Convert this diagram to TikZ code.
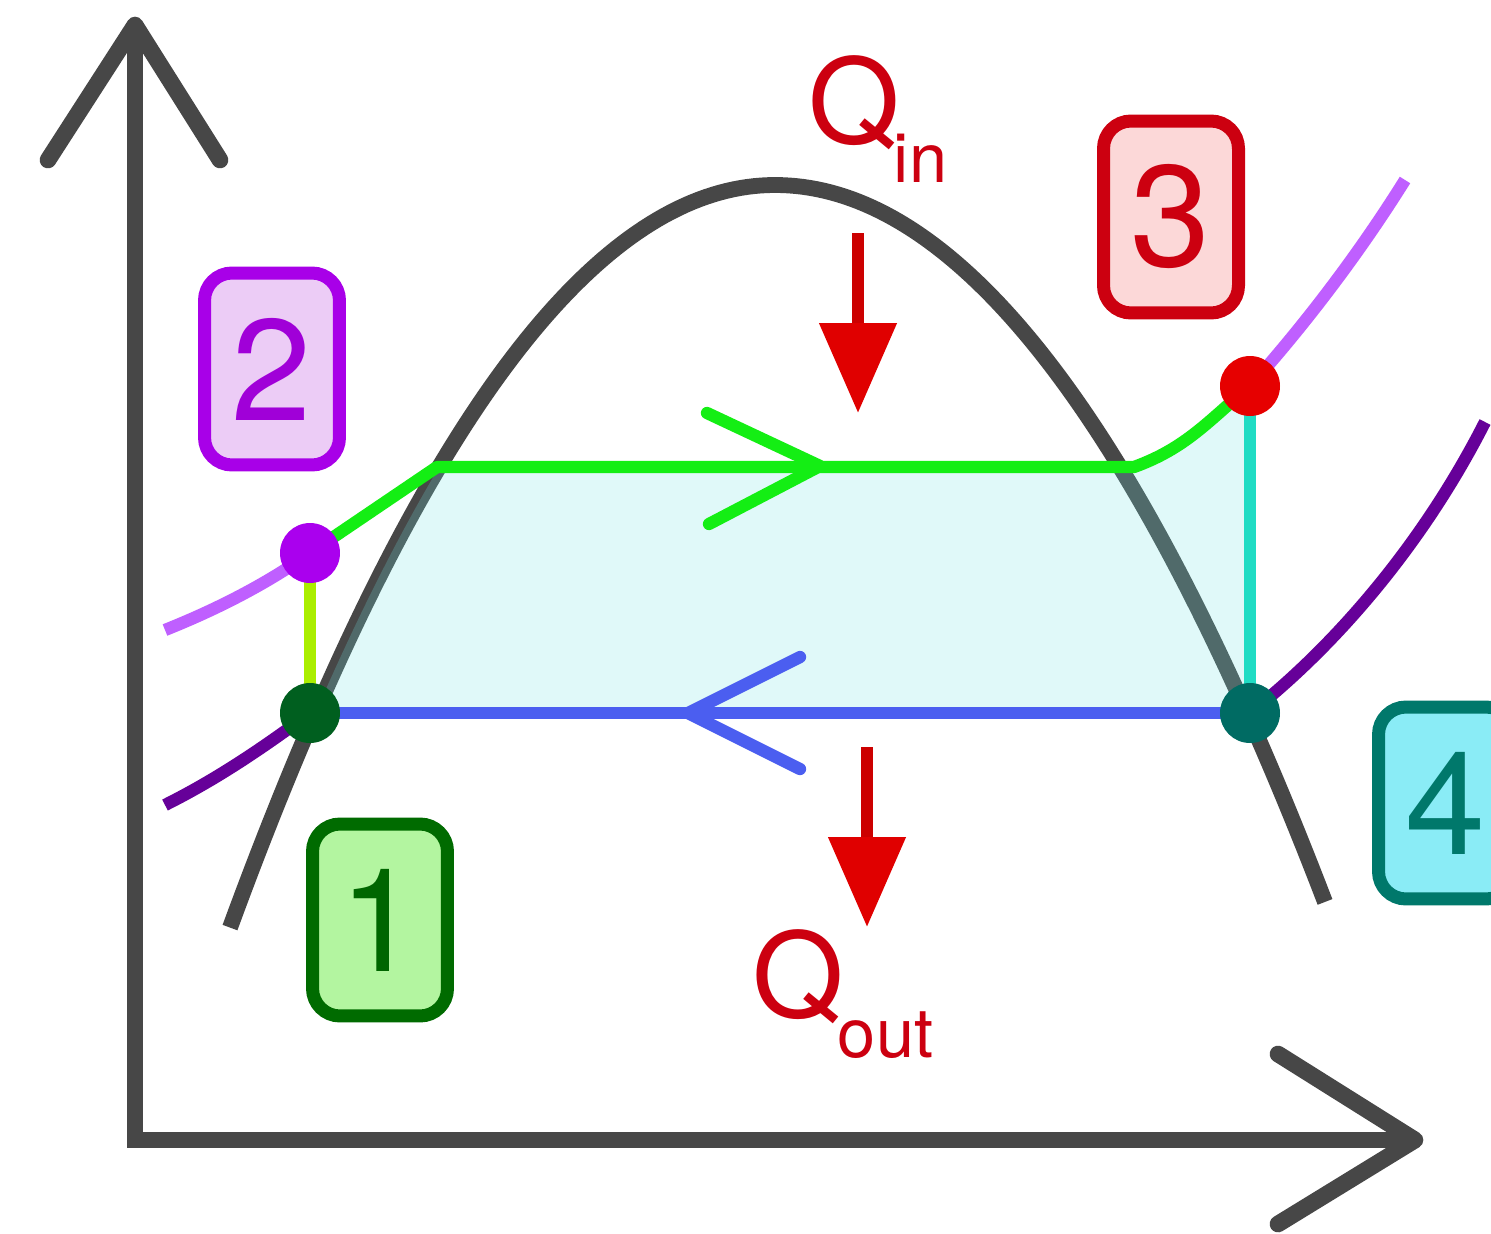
\documentclass[tikz,border=0pt]{standalone}
\usepackage{fontspec}
\setmainfont{TeX Gyre Heros}
\newfontfamily\labelfont{TeX Gyre Heros}
\usetikzlibrary{arrows.meta}
\definecolor{axisgray}{HTML}{474747}
\definecolor{cycfill}{RGB}{114,232,232}
\definecolor{lgreen}{HTML}{14EE14}
\definecolor{ygreen}{HTML}{AAEE00}
\definecolor{lblue}{HTML}{4B5EF0}
\definecolor{lteal}{HTML}{20DCC4}
\definecolor{lpurple}{HTML}{BF5FFF}
\definecolor{dpurple}{HTML}{660099}
\definecolor{dotone}{HTML}{005F1F}
\definecolor{dottwo}{HTML}{AA00EE}
\definecolor{dotthree}{HTML}{E60000}
\definecolor{dotfour}{HTML}{006B63}
\definecolor{arrred}{HTML}{E00000}
\definecolor{shaftred}{HTML}{CC0000}
\definecolor{qred}{HTML}{CC0010}
\definecolor{bonedraw}{HTML}{006B00}\definecolor{bonefill}{HTML}{B3F5A0}\definecolor{bonetext}{HTML}{006600}
\definecolor{btwodraw}{HTML}{A800E8}\definecolor{btwofill}{HTML}{ECCCF6}\definecolor{btwotext}{HTML}{A000D8}
\definecolor{bthreedraw}{HTML}{CC0010}\definecolor{bthreefill}{HTML}{FCD8D8}\definecolor{bthreetext}{HTML}{CC0010}
\definecolor{bfourdraw}{HTML}{00786B}\definecolor{bfourfill}{HTML}{8AECF6}\definecolor{bfourtext}{HTML}{00786B}
\newcommand{\domeL}[1]{185+25*((#1-775)/100)*((#1-775)/100)}
\newcommand{\domeR}[1]{185+23.7*((#1-775)/100)*((#1-775)/100)}
\begin{document}
\begin{tikzpicture}[x=0.02cm,y=-0.02cm,
  axisline/.style={draw=axisgray,line width=9.5pt,line cap=round,line join=round},
  domeline/.style={draw=axisgray,line width=9pt},
  cycline/.style={line width=7pt,line cap=round,line join=round},
  isobar/.style={line width=7pt},
  dotnode/.style={circle,inner sep=0pt,minimum size=1.2cm},
  numbox/.style={rounded corners=0.55cm,line width=7.4pt,minimum width=2.7cm,minimum height=3.84cm,inner sep=0pt,font=\labelfont\fontsize{82}{82}\selectfont},
  heatarrow/.style={draw=shaftred,line width=6.5pt,-{Triangle[length=1.8cm,width=1.5cm,fill=arrred,color=arrred]}},
  qlabel/.style={anchor=base west,inner sep=0pt,text=qred,font=\labelfont\fontsize{67}{67}\selectfont}]
\useasboundingbox (0,0) rectangle (1491,1234);
\fill[white] (0,0) rectangle (1491,1234);
% key points
\coordinate (p1) at (310,713);
\coordinate (p2) at (310,553);
\coordinate (p3) at (1250,386);
\coordinate (p4) at (1250,713);
\coordinate (k1) at (437,467);
\coordinate (k2) at (1134,467);
% axes
\coordinate (O) at (135,1140);
\coordinate (ytip) at (135,25);
\coordinate (xtip) at (1415,1140);
\draw[axisline,line join=miter,line cap=butt] (ytip) -- (O) -- (xtip);
\draw[axisline] (48,160) -- (ytip) -- (220,160);
\draw[axisline] (1278,1054) -- (xtip) -- (1278,1224);
% dome
\draw[domeline,line cap=butt] plot[domain=230:775,samples=80] (\x,{\domeL{\x}}) -- plot[domain=775:1325,samples=80] (\x,{\domeR{\x}});
% cycle fill
\fill[cycfill,opacity=0.22] (p1) -- plot[domain=316:437,samples=20] (\x,{\domeL{\x}}) -- (k1) -- (k2) to[out=20,in=-140] (p3) -- (p4) -- cycle;
% isobars
\draw[isobar,lpurple] (165,630) .. controls (215,610) and (265,585) .. (p2);
\draw[isobar,dpurple] (165,805) .. controls (215,780) and (260,750) .. (p1);
\draw[isobar,lpurple] (p3) .. controls (1300,330) and (1355,260) .. (1405,180);
\draw[isobar,dpurple] (p4) .. controls (1330,650) and (1420,550) .. (1485,422);
% cycle lines
\draw[cycline,ygreen,line cap=butt] (p1) -- (p2);
\draw[cycline,lteal,line cap=butt] (p3) -- (p4);
\draw[cycline,lblue] (p4) -- (p1);
\draw[cycline,lgreen] (p2) -- (k1) -- (k2) to[out=20,in=-140] (p3);
% direction chevrons
\draw[cycline,lgreen] (707,413) -- (820,466) -- (709,524);
\draw[cycline,lblue] (800,657) -- (688,713) -- (800,769);
% state dots
\node[dotnode,fill=dotone] (d1) at (p1) {};
\node[dotnode,fill=dottwo] (d2) at (p2) {};
\node[dotnode,fill=dotthree] (d3) at (p3) {};
\node[dotnode,fill=dotfour] (d4) at (p4) {};
% heat arrows
\coordinate (qinA) at (858,233);
\coordinate (qinB) at (858,413);
\coordinate (qoutA) at (867,747);
\coordinate (qoutB) at (867,927);
\draw[heatarrow] (qinA) -- (qinB);
\draw[heatarrow] (qoutA) -- (qoutB);
\node[qlabel] (qin) at (808,143) {Q\kern-0.12cm\raisebox{-0.8cm}{\fontsize{39}{39}\selectfont in}};
\node[qlabel] (qout) at (752,1017) {Q\kern-0.12cm\raisebox{-0.8cm}{\fontsize{39}{39}\selectfont out}};
% state boxes
\node[numbox,draw=bonedraw,fill=bonefill,text=bonetext] (b1) at (380,920) {1};
\node[numbox,draw=btwodraw,fill=btwofill,text=btwotext] (b2) at (272,369) {2};
\node[numbox,draw=bthreedraw,fill=bthreefill,text=bthreetext] (b3) at (1171,217) {3};
\node[numbox,draw=bfourdraw,fill=bfourfill,text=bfourtext] (b4) at (1446,803) {4};
\end{tikzpicture}
\end{document}
